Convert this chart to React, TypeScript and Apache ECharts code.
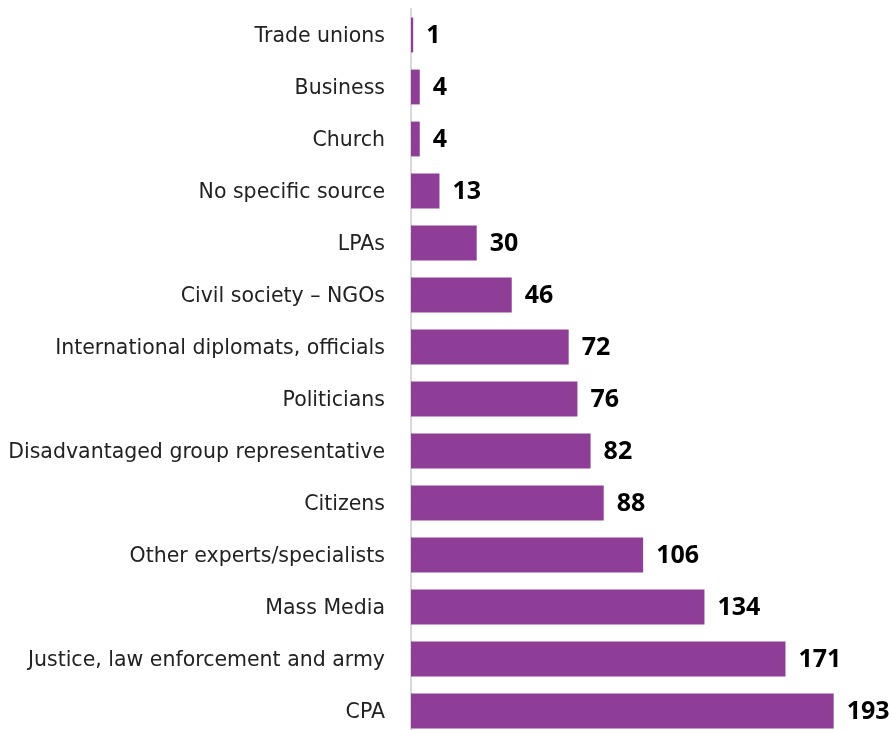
import React, { useEffect, useRef } from "react";
import * as echarts from "echarts";

const categories = [
  "Trade unions",
  "Business",
  "Church",
  "No specific source",
  "LPAs",
  "Civil society – NGOs",
  "International diplomats, officials",
  "Politicians",
  "Disadvantaged group representative",
  "Citizens",
  "Other experts/specialists",
  "Mass Media",
  "Justice, law enforcement and army",
  "CPA",
];
const values = [1, 4, 4, 13, 30, 46, 72, 76, 82, 88, 106, 134, 171, 193];

const LABEL_FONT = "'DejaVu Sans', sans-serif";
const VALUE_FONT = "'Noto Sans', sans-serif";

export default function App() {
  const ref = useRef<HTMLDivElement>(null);
  useEffect(() => {
    if (!ref.current) return;
    const chart = echarts.init(ref.current, undefined, { renderer: "svg" });
    chart.setOption({
      animation: false,
      grid: { left: 411, top: 9, bottom: 3, width: 438, containLabel: false },
      xAxis: {
        type: "value",
        min: 0,
        max: 200,
        show: false,
      },
      yAxis: {
        type: "category",
        data: categories,
        inverse: true,
        axisLine: { show: true, lineStyle: { color: "#d9d9d9", width: 2 } },
        axisTick: { show: false },
        axisLabel: {
          color: "#222",
          fontSize: 20.5,
          fontFamily: LABEL_FONT,
          margin: 26,
        },
      },
      series: [
        {
          type: "bar",
          data: values,
          barWidth: "67%",
          itemStyle: { color: "#8F3E98" },
          label: {
            show: true,
            position: "right",
            distance: 13,
            offset: [0, -2],
            color: "#000",
            fontSize: 25,
            fontWeight: "bold",
            fontFamily: VALUE_FONT,
          },
        },
      ],
    });
    return () => chart.dispose();
  }, []);
  return (
    <div
      ref={ref}
      style={{ position: "fixed", left: 0, top: 0, width: 891, height: 740 }}
    />
  );
}
